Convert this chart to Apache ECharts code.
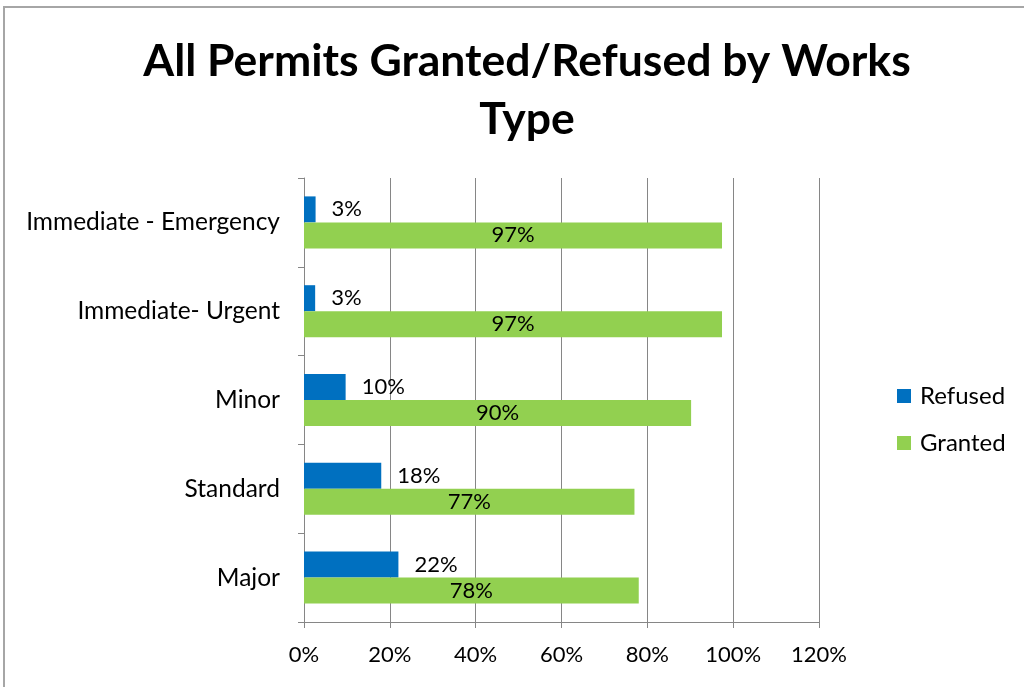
<!DOCTYPE html>
<html>
<head>
<meta charset="utf-8">
<script src="https://cdn.jsdelivr.net/npm/echarts@6/dist/echarts.min.js"></script>
<style>
  html, body { margin: 0; padding: 0; background: #fff; }
  #permitsChart { width: 1024px; height: 687px; }
</style>
</head>
<body>
<div id="permitsChart"></div>
<script>
// works types, bottom to top
const workTypes = ['Major', 'Standard', 'Minor', 'Immediate- Urgent', 'Immediate - Emergency']
const refused = [0.22, 0.18, 0.097, 0.026, 0.027]
const granted = [0.78, 0.77, 0.902, 0.974, 0.974]
const xTicks = [0, 0.2, 0.4, 0.6, 0.8, 1.0, 1.2]

const font = 'Lato, "Open Sans", sans-serif'
const pct = v => Math.round(v * 100) + '%'

const myChart = echarts.init(document.getElementById('permitsChart'))

const options = {
  animation: false,
  color: ['#0070C0', '#92D050'],
  textStyle: { fontFamily: font },
  title: {
    text: 'All Permits Granted/Refused by Works\nType',
    left: 522,
    textAlign: 'center',
    top: 28,
    textStyle: {
      fontFamily: font,
      fontSize: 44.5,
      fontWeight: 'bold',
      color: '#000',
      lineHeight: 58
    }
  },
  graphic: [{
    type: 'rect',
    shape: { x: 4, y: 7, width: 1100, height: 800 },
    style: { fill: 'none', stroke: '#a6a6a6', lineWidth: 2 },
    silent: true
  }],
  legend: {
    orient: 'vertical',
    left: 892,
    top: 379,
    itemWidth: 14,
    itemHeight: 14,
    itemGap: 23,
    icon: 'rect',
    textStyle: { fontFamily: font, fontSize: 24, color: '#000', padding: [0, 0, 0, 4] },
    data: ['Refused', 'Granted']
  },
  grid: {
    left: 304,
    right: 205,
    top: 178,
    bottom: 65,
    containLabel: false
  },
  xAxis: {
    type: 'value',
    min: xTicks[0],
    max: xTicks[xTicks.length - 1],
    interval: 0.2,
    axisLine: { show: true, lineStyle: { color: '#868686', width: 1 } },
    axisTick: { show: true, length: 6, lineStyle: { color: '#868686' } },
    splitLine: { show: true, lineStyle: { color: '#868686', width: 1 } },
    axisLabel: {
      formatter: pct,
      fontFamily: font,
      fontSize: 22,
      color: '#000',
      margin: 22
    }
  },
  yAxis: {
    type: 'category',
    data: workTypes,
    axisLine: { show: true, lineStyle: { color: '#868686', width: 1 } },
    axisTick: { show: true, length: 6, lineStyle: { color: '#868686' } },
    axisLabel: {
      fontFamily: font,
      fontSize: 24.5,
      color: '#000',
      margin: 24
    }
  },
  series: [
    {
      name: 'Refused',
      type: 'bar',
      barWidth: 26,
      barGap: '0%',
      data: refused,
      label: {
        show: true,
        position: 'right',
        distance: 16,
        formatter: p => pct(p.value),
        fontFamily: font,
        fontSize: 22,
        color: '#000'
      }
    },
    {
      name: 'Granted',
      type: 'bar',
      barWidth: 26,
      barGap: '0%',
      data: granted,
      label: {
        show: true,
        position: 'inside',
        formatter: p => pct(p.value),
        fontFamily: font,
        fontSize: 22,
        color: '#000'
      }
    }
  ]
}

myChart.setOption(options)
</script>
</body>
</html>
